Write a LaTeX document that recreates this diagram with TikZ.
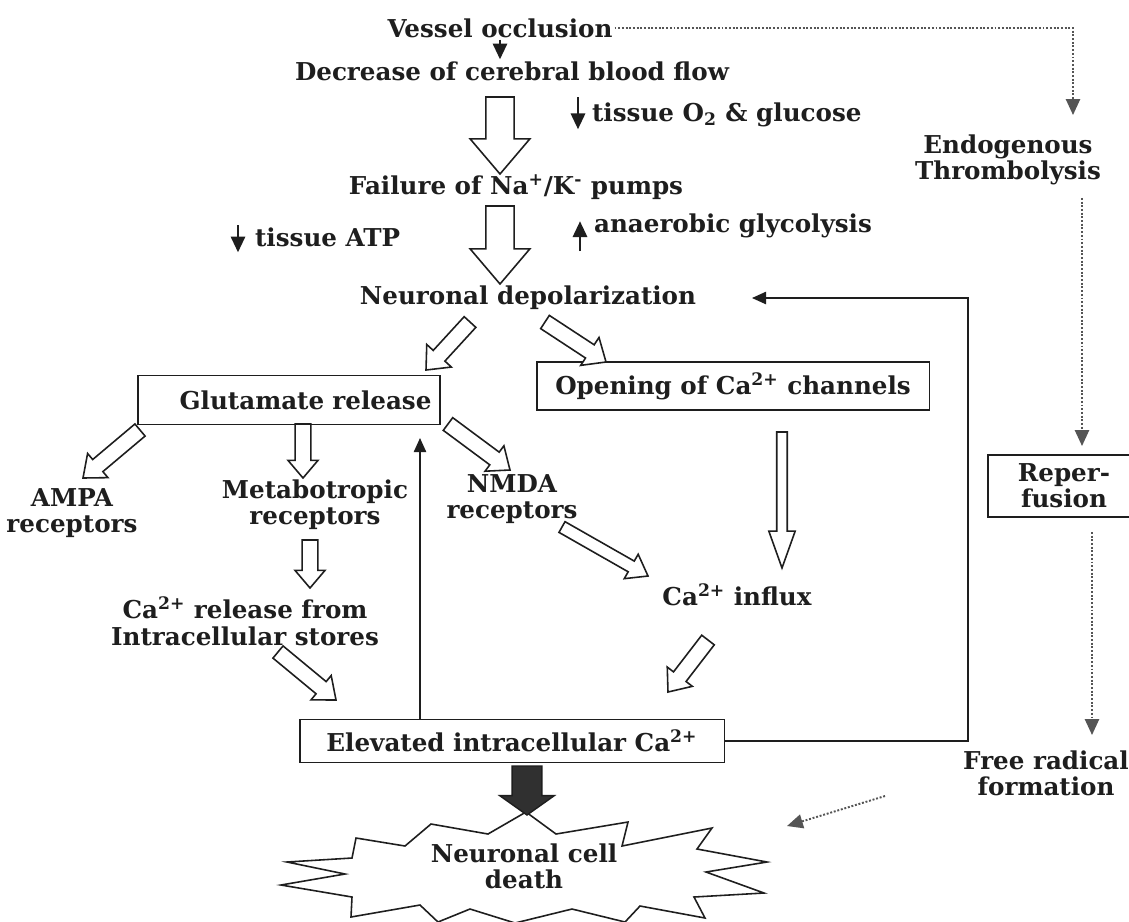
\documentclass[tikz,border=0pt]{standalone}
\usepackage{fontspec}
\setmainfont{DejaVu Serif}
\usepackage{xcolor}
\definecolor{inkdark}{RGB}{30,30,30}
\definecolor{dotgray}{RGB}{85,85,85}
\usetikzlibrary{calc, arrows.meta}
% outlined block arrow: [style]{from}{tip}{shaft half width}{head half width}{head length}
\newcommand{\blockarrow}[6][hollow]{%
  \coordinate (ba-neck) at ($(#3)!#6!(#2)$);
  \draw[#1] ($(#2)!#4!90:(#3)$) -- ($(ba-neck)!#4!90:(#3)$)
    -- ($(ba-neck)!#5!90:(#3)$) -- (#3)
    -- ($(ba-neck)!#5!-90:(#3)$) -- ($(ba-neck)!#4!-90:(#3)$)
    -- ($(#2)!#4!-90:(#3)$) -- cycle;}

\begin{document}
\begin{tikzpicture}[x=0.02cm, y=-0.02cm,
    txt/.style={font=\fontsize{14}{15}\selectfont\bfseries, text=inkdark, align=center, inner sep=1pt},
    box/.style={txt, draw=inkdark, line width=1.1pt, inner sep=0pt},
    hollow/.style={draw=inkdark, line width=0.9pt, fill=white, line join=miter},
    solidblk/.style={draw=inkdark, fill=inkdark!92, line width=0.8pt},
    sarr/.style={-{Triangle[length=9pt, width=8pt]}, line width=1.6pt, inkdark},
    conn/.style={-{Triangle[length=8pt, width=7pt]}, line width=0.9pt, inkdark},
    dotarr/.style={-{Triangle[length=9pt, width=8pt]}, densely dotted, line width=1.1pt, dotgray},
  ]
  \useasboundingbox (0,0) rectangle (1129,921);
  \fill[white] (0,0) rectangle (1129,921);

  % --- main column ---
  \node[txt] (vo)    at (500,28)  {Vessel occlusion};
  \node[txt] (dcbf)  at (512,71)  {Decrease of cerebral blood flow};
  \node[txt, anchor=west] (o2) at (590,115) {tissue O\textsubscript{2} \& glucose};
  \node[txt] (fail)  at (516,187) {Failure of Na\textsuperscript{+}/K\textsuperscript{-} pumps};
  \node[txt, anchor=west] (atp)  at (253,237) {tissue ATP};
  \node[txt, anchor=west] (glyc) at (592,226) {anaerobic glycolysis};
  \node[txt] (depol) at (528,298) {Neuronal depolarization};

  % --- boxes ---
  \node[box, minimum width=6.04cm, minimum height=0.98cm, text width=5.7cm, align=right]
    (glut) at (289,400) {Glutamate release};
  \node[box, minimum width=7.86cm, minimum height=0.96cm]
    (open) at (733,386) {Opening of Ca\textsuperscript{2+} channels};
  \node[box, minimum width=3.04cm, minimum height=1.24cm]
    (reper) at (1064,486) {Reper-\\fusion};
  \node[box, minimum width=8.5cm, minimum height=0.86cm]
    (elev) at (512,741) {Elevated intracellular Ca\textsuperscript{2+}};

  % --- receptors and calcium ---
  \node[txt] (ampa)   at (72,513)   {AMPA\\receptors};
  \node[txt] (metab)  at (315,505)  {Metabotropic\\receptors};
  \node[txt] (nmda)   at (512,499)  {NMDA\\receptors};
  \node[txt] (carel)  at (245,621)  {Ca\textsuperscript{2+} release from\\Intracellular stores};
  \node[txt] (influx) at (737,595)  {Ca\textsuperscript{2+} influx};

  % --- right column ---
  \node[txt] (endo) at (1008,160) {Endogenous\\Thrombolysis};
  \node[txt] (free) at (1046,773) {Free radical\\formation};

  % --- cell death ---
  \draw[inkdark, line width=0.9pt, fill=white]
    (356,838) -- (405,846) -- (431,824) -- (488,834) -- (526,812) -- (556,834)
    -- (628,822) -- (622,846) -- (712,828) -- (697,849) -- (767,862) -- (706,872)
    -- (764,893) -- (694,897) -- (705,918) -- (640,906) -- (625,922) -- (572,909)
    -- (515,923) -- (470,909) -- (438,922) -- (420,905) -- (351,917) -- (352,897)
    -- (281,885) -- (345,874) -- (287,862) -- (352,858) -- cycle;
  \node[txt] (death) at (524,866) {Neuronal cell\\death};

  % --- arrow ends ---
  \coordinate (fl-top) at (500,97);  \coordinate (fl-tip) at (500,174);
  \coordinate (dp-top) at (500,206); \coordinate (dp-tip) at (500,284);
  \coordinate (gl-top) at (470,322); \coordinate (gl-tip) at (426,370);
  \coordinate (op-top) at (545,322); \coordinate (op-tip) at (606,362);
  \coordinate (am-top) at (140,430); \coordinate (am-tip) at (83,478);
  \coordinate (mb-top) at (303,424); \coordinate (mb-tip) at (303,478);
  \coordinate (nm-top) at (448,424); \coordinate (nm-tip) at (510,470);
  \coordinate (cr-top) at (310,540); \coordinate (cr-tip) at (310,588);
  \coordinate (st-top) at (278,652); \coordinate (st-tip) at (336,700);
  \coordinate (nf-top) at (562,527); \coordinate (nf-tip) at (648,576);
  \coordinate (ch-top) at (782,432); \coordinate (ch-tip) at (782,568);
  \coordinate (in-top) at (708,640); \coordinate (in-tip) at (668,692);
  \coordinate (el-top) at (527,766); \coordinate (el-tip) at (527,815);
  \coordinate (dp-in)  at (752,298); \coordinate (fb-up)  at (968,298);
  \coordinate (gl-up)  at (420,438);
  \coordinate (endo-in) at (1073,115);
  \coordinate (rp-in)  at (1082,446); \coordinate (fr-in) at (1092,735);
  \coordinate (fr-out) at (885,796);  \coordinate (dt-in) at (787,826);

  % --- hollow arrows ---
  \blockarrow{fl-top}{fl-tip}{8pt}{17pt}{20pt}
  \blockarrow{dp-top}{dp-tip}{8pt}{17pt}{20pt}
  \blockarrow{gl-top}{gl-tip}{4.5pt}{9.5pt}{11pt}
  \blockarrow{op-top}{op-tip}{4.5pt}{9.5pt}{11pt}
  \blockarrow{am-top}{am-tip}{4.5pt}{9pt}{11pt}
  \blockarrow{mb-top}{mb-tip}{4.5pt}{8.5pt}{10pt}
  \blockarrow{nm-top}{nm-tip}{4.5pt}{9pt}{11pt}
  \blockarrow{cr-top}{cr-tip}{4.5pt}{8.5pt}{10pt}
  \blockarrow{st-top}{st-tip}{4.5pt}{9pt}{11pt}
  \blockarrow{nf-top}{nf-tip}{3.5pt}{8pt}{11pt}
  \blockarrow{ch-top}{ch-tip}{3pt}{7.5pt}{21pt}
  \blockarrow{in-top}{in-tip}{4.5pt}{9pt}{11pt}
  \blockarrow[solidblk]{el-top}{el-tip}{8.5pt}{15.5pt}{11pt}

  % --- small solid arrows ---
  \draw[sarr] (vo.south) -- (vo.south |- dcbf.north);
  \draw[sarr] ([xshift=-0.24cm, yshift=2pt]o2.north west) -- ++(0,32);
  \draw[sarr] ([xshift=-0.3cm]atp.north west) -- ++(0,27);
  \draw[sarr] ([xshift=-0.24cm, yshift=-0.22cm]glyc.south west) -- ++(0,-30);

  % --- feedback and thin connectors ---
  \draw[conn] (elev.east) -| (fb-up) -- (dp-in);
  \draw[conn] (elev.north -| gl-up) -- (gl-up);

  % --- dotted side path ---
  \draw[dotarr] (vo.east) -| (endo-in);
  \draw[dotarr] ([yshift=-6pt]endo.south -| rp-in) -- (rp-in);
  \draw[dotarr] ([yshift=-8pt]reper.south -| fr-in) -- (fr-in);
  \draw[dotarr] (fr-out) -- (dt-in);
\end{tikzpicture}
\end{document}
